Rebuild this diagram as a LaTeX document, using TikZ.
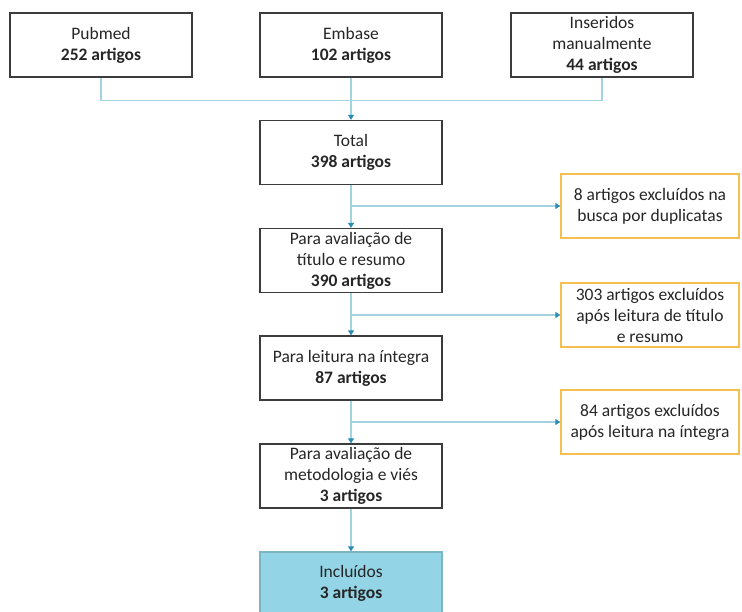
\documentclass[tikz,border=0pt]{standalone}
\usepackage{fontspec}
\setmainfont{Carlito}
\usepackage{tikz}
\usetikzlibrary{arrows.meta}

\definecolor{linha}{HTML}{A3D3E0}
\definecolor{ponta}{HTML}{2B8CB4}
\definecolor{borda}{HTML}{3C3C3C}
\definecolor{ouro}{HTML}{F6C050}
\definecolor{azul}{HTML}{93D5E6}

\tikzset{
  caixa/.style={draw=borda, line width=1.3pt, fill=white, text=black!85, minimum width=182pt, minimum height=64pt, align=center, inner sep=2pt, font=\fontsize{17.5}{21}\selectfont},
  exclui/.style={caixa, draw=ouro, minimum width=178pt},
  final/.style={caixa, draw=azul!85!black, fill=azul, minimum height=62pt},
  liga/.style={draw=linha, line width=1.1pt},
  seta/.style={liga, -{Triangle[length=5pt, width=6pt, color=ponta]}}
}

\begin{document}
\begin{tikzpicture}[x=1pt, y=-1pt]
    \useasboundingbox (0,0) rectangle (742,611);

    % fontes
    \node[caixa] (pubmed) at (101, 45) {Pubmed\\\textbf{252 artigos}};
    \node[caixa] (embase) at (351, 45) {Embase\\\textbf{102 artigos}};
    \node[caixa] (manual) at (602, 45) {Inseridos\\manualmente\\\textbf{44 artigos}};

    % etapas
    \node[caixa] (total) at (351, 152.5) {Total\\\textbf{398 artigos}};
    \node[caixa] (titulo) at (351, 260.5) {Para avaliação de\\título e resumo\\\textbf{390 artigos}};
    \node[caixa] (integra) at (351, 368) {Para leitura na íntegra\\\textbf{87 artigos}};
    \node[caixa] (metodo) at (351, 476) {Para avaliação de\\metodologia e viés\\\textbf{3 artigos}};
    \node[final] (incluidos) at (351, 583) {Incluídos\\\textbf{3 artigos}};

    % excluidos
    \node[exclui] (excl1) at (650, 206) {8 artigos excluídos na\\busca por duplicatas};
    \node[exclui] (excl2) at (650, 315) {303 artigos excluídos\\após leitura de título\\e resumo};
    \node[exclui] (excl3) at (650, 422) {84 artigos excluídos\\após leitura na íntegra};

    \draw[liga] (pubmed.south) -- ++(0, 23) -| (manual.south);
    \draw[seta] (embase.south) -- (total.north);
    \draw[seta] (total.south) -- (titulo.north);
    \draw[seta] (titulo.south) -- (integra.north);
    \draw[seta] (integra.south) -- (metodo.north);
    \draw[seta] (metodo.south) -- (incluidos.north);

    \draw[seta] (total.south |- excl1.west) -- (excl1.west);
    \draw[seta] (titulo.south |- excl2.west) -- (excl2.west);
    \draw[seta] (integra.south |- excl3.west) -- (excl3.west);
\end{tikzpicture}
\end{document}
